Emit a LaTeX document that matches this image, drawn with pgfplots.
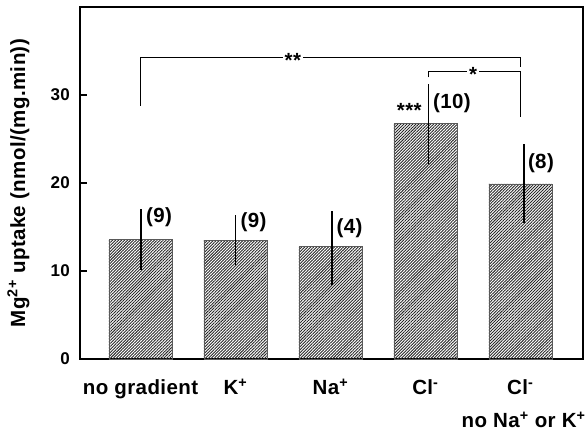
\documentclass[border=0pt]{standalone}
\usepackage{pgfplots}
\pgfplotsset{compat=1.18}
\usepackage{fontspec}
\setmainfont[LetterSpace=2]{Liberation Sans}
\usetikzlibrary{patterns.meta}
\begin{document}
\bfseries\fontsize{20.5}{24}\selectfont
\begin{tikzpicture}
\useasboundingbox (-80pt,-74pt) rectangle (507pt,359pt);
\begin{axis}[
  at={(0pt,0pt)}, anchor=south west,
  scale only axis, width=503pt, height=352pt,
  xmin=-0.637, xmax=4.66, ymin=0, ymax=40,
  axis line style={line width=1.3pt},
  ytick={0,10,20,30}, ytick pos=left, tick align=inside,
  major tick length=7pt, tick style={line width=1.3pt, black},
  xtick={0,1,2,3,4},
  xticklabels={no gradient, K\textsuperscript{+}, Na\textsuperscript{+}, Cl\textsuperscript{-}, Cl\textsuperscript{-}},
  x tick style={draw=none},
  xticklabel style={anchor=base, yshift=-36pt, inner sep=0pt},
  yticklabel style={font=\fontsize{17}{20}\selectfont, inner sep=0pt, xshift=-10pt},
  /pgf/number format/assume math mode=true,
  ylabel={Mg\textsuperscript{2+} uptake (nmol/(mg.min))},
  ylabel style={at={(axis description cs:-0.1093,0.5)}, anchor=base, inner sep=0pt},
  clip=false,
]
\addplot[ybar, bar width=63pt, draw=black!65, line width=0.6pt,
  pattern={Lines[angle=45,distance=2.1pt,line width=0.9pt]}, pattern color=black!85]
  coordinates {(0,13.6) (1,13.5) (2,12.75) (3,26.8) (4,19.9)};
\addplot[draw=none, mark=none,
  error bars/.cd, y dir=both, y explicit, error mark=none,
  error bar style={line width=1.4pt, black}]
  coordinates {
    (0.005,13.6) += (0,3.4) -= (0,3.5)
    (1.0,13.5) += (0,2.9) -= (0,2.8)
    (2.015,12.75) += (0,4.1) -= (0,4.35)
    (3.03,26.8) += (0,4.5) -= (0,4.6)
    (4.04,19.9) += (0,4.5) -= (0,4.5)
  };
% counts
\node[anchor=west, inner sep=0pt] at (axis cs:0.058,16.1) {(9)};
\node[anchor=west, inner sep=0pt] at (axis cs:1.053,15.6) {(9)};
\node[anchor=west, inner sep=0pt] at (axis cs:2.063,14.9) {(4)};
\node[anchor=west, inner sep=0pt] at (axis cs:3.08,29.05) {(10)};
\node[anchor=west, inner sep=0pt] at (axis cs:4.079,22.2) {(8)};
\node[anchor=east, inner sep=0pt] at (axis cs:2.963,28.3) {***};
% brackets
\draw[line width=1.2pt] (axis cs:0,28.75) -- (axis cs:0,34.3) -- (axis cs:4.0,34.3) -- (axis cs:4.0,33.2);
\draw[line width=1.2pt] (axis cs:3.03,32.0) -- (axis cs:3.03,32.7) -- (axis cs:4.0,32.7) -- (axis cs:4.0,27.5);
\node[fill=white, inner sep=2pt] at ([yshift=-3.5pt]axis cs:1.605,34.3) {**};
\node[fill=white, inner sep=2pt] at ([yshift=-3.5pt]axis cs:3.503,32.7) {*};
\node[anchor=base west, inner sep=0pt] at ([yshift=-69pt]axis cs:3.38,0) {no Na\textsuperscript{+} or K\textsuperscript{+}};
\end{axis}
\end{tikzpicture}
\end{document}
